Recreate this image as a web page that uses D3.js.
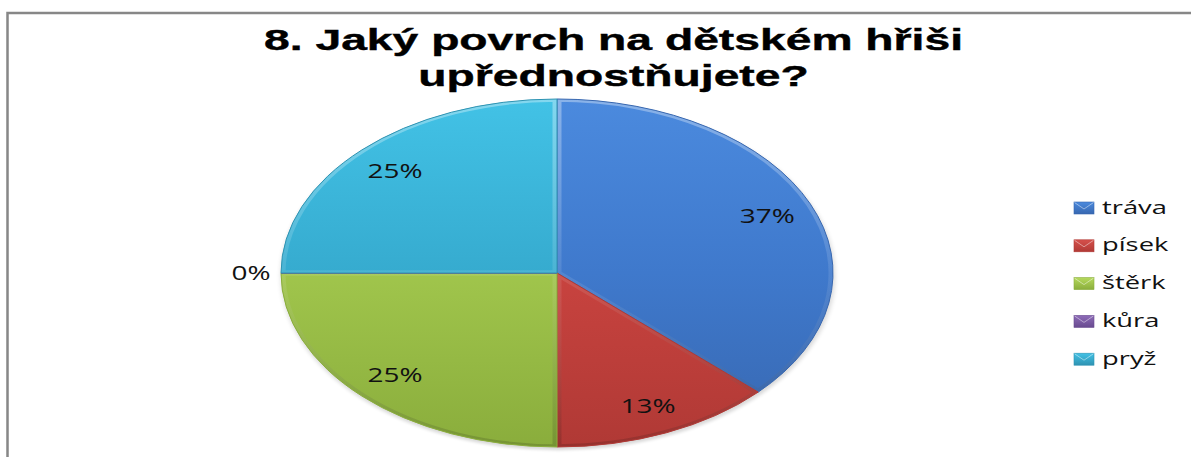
<!DOCTYPE html>
<html>
<head>
<meta charset="utf-8">
<script src="https://cdn.jsdelivr.net/npm/d3@7"></script>
<style>
  body { margin: 0; background: #ffffff; }
</style>
</head>
<body>
<div id="chart"></div>
<script>

// Data
const categories = [ 'tráva', 'písek', 'štěrk', 'kůra', 'pryž' ];
const shares = [ 37, 13, 25, 0, 25 ];
const valueLabels = [ '37%', '13%', '25%', '0%', '25%' ];
const titleLines = [ '8. Jaký povrch na dětském hřiši', 'upřednostňujete?' ];

// Office-like palette: base, light (top) and dark (bottom) tone per slice
const baseColors  = [ '#3f79cc', '#c8433f', '#a0c54c', '#7d5ba6', '#36abcf' ];
const lightColors = [ '#4b8ade', '#d6504b', '#b5d95c', '#8e6cb8', '#42c2e6' ];
const darkColors  = [ '#3767b0', '#b03935', '#8aad3c', '#684a8f', '#2e93b2' ];

const figure_width = 1191;
const figure_height = 457;

const svg = d3.select( 'div#chart' )
  .append( 'svg' )
    .attr( 'width', figure_width )
    .attr( 'height', figure_height );

const defs = svg.append( 'defs' );

// Chart area border (only left and top edges are inside the window)
svg.append( 'rect' )
  .attr( 'x', 7.5 )
  .attr( 'y', 13 )
  .attr( 'width', 1400 )
  .attr( 'height', 600 )
  .attr( 'fill', 'none' )
  .attr( 'stroke', '#878787' )
  .attr( 'stroke-width', 2.5 );

// Title, stretched horizontally like the reference
const titleStyle = 'font-family: "Liberation Sans", Arial, sans-serif; font-size: 30px; font-weight: bold;';
const titleX = 613.5;
const titleBaselines = [ 50, 86 ];
const titleWidth = 699;
const titleTexts = svg.append( 'g' )
  .selectAll( 'text' )
  .data( titleLines )
  .enter()
  .append( 'text' )
    .attr( 'text-anchor', 'middle' )
    .attr( 'style', titleStyle )
    .attr( 'fill', '#000' )
    .attr( 'stroke', '#000' )
    .attr( 'stroke-width', 0.4 )
    .text( function( d ) { return d } );
const titleScale = titleWidth / titleTexts.node().getComputedTextLength();
titleTexts.attr( 'transform', function( d, i ) {
  return 'translate(' + titleX + ',' + titleBaselines[ i ] + ') scale(' + titleScale + ',1)';
});

// Pie geometry: a circle of radius rx squashed vertically into an ellipse
const cx = 557, cy = 273, rx = 276, ry = 174;
const squash = ry / rx;

const pie = d3.pie()
  .sort( null )
  .value( function( d ) { return d } );
const arcs = pie( shares );

const arc = d3.arc()
  .innerRadius( 0 )
  .outerRadius( rx );

// Gradients per slice
categories.forEach( function( c, i ) {
  const g = defs.append( 'linearGradient' )
    .attr( 'id', 'fill' + i )
    .attr( 'gradientUnits', 'userSpaceOnUse' )
    .attr( 'x1', 0 ).attr( 'y1', -rx )
    .attr( 'x2', 0 ).attr( 'y2', rx );
  g.append( 'stop' ).attr( 'offset', '0%' ).attr( 'stop-color', lightColors[ i ] );
  g.append( 'stop' ).attr( 'offset', '50%' ).attr( 'stop-color', baseColors[ i ] );
  g.append( 'stop' ).attr( 'offset', '100%' ).attr( 'stop-color', darkColors[ i ] );

  // legend swatch gradient
  const lg = defs.append( 'linearGradient' )
    .attr( 'id', 'swatch' + i )
    .attr( 'x1', 0 ).attr( 'y1', 0 )
    .attr( 'x2', 0 ).attr( 'y2', 1 );
  lg.append( 'stop' ).attr( 'offset', '0%' ).attr( 'stop-color', lightColors[ i ] );
  lg.append( 'stop' ).attr( 'offset', '100%' ).attr( 'stop-color', darkColors[ i ] );
});

// Bevel: light on top, dark at the bottom
const bevel = defs.append( 'linearGradient' )
  .attr( 'id', 'bevel' )
  .attr( 'gradientUnits', 'userSpaceOnUse' )
  .attr( 'x1', 0 ).attr( 'y1', -rx )
  .attr( 'x2', 0 ).attr( 'y2', rx );
bevel.append( 'stop' ).attr( 'offset', '0%' ).attr( 'stop-color', '#ffffff' ).attr( 'stop-opacity', 0.35 );
bevel.append( 'stop' ).attr( 'offset', '50%' ).attr( 'stop-color', '#ffffff' ).attr( 'stop-opacity', 0.1 );
bevel.append( 'stop' ).attr( 'offset', '100%' ).attr( 'stop-color', '#000000' ).attr( 'stop-opacity', 0.15 );

// Soft shadow under the pie
const shadow = defs.append( 'filter' )
  .attr( 'id', 'shadow' )
  .attr( 'x', '-10%' ).attr( 'y', '-10%' )
  .attr( 'width', '120%' ).attr( 'height', '120%' );
shadow.append( 'feGaussianBlur' ).attr( 'stdDeviation', 2.5 );

const pieGroup = svg.append( 'g' )
  .attr( 'transform', 'translate(' + cx + ',' + cy + ') scale(1,' + squash + ')' );

pieGroup.append( 'ellipse' )
  .attr( 'cx', 1 )
  .attr( 'cy', 4 )
  .attr( 'rx', rx + 1 )
  .attr( 'ry', rx + 1 )
  .attr( 'fill', '#000' )
  .attr( 'opacity', 0.15 )
  .attr( 'filter', 'url(#shadow)' );

arcs.forEach( function( a, i ) {
  defs.append( 'clipPath' )
    .attr( 'id', 'clip' + i )
    .append( 'path' )
      .attr( 'd', arc( a ) );
});

const slices = pieGroup.selectAll( 'g.slice' )
  .data( arcs )
  .enter()
  .append( 'g' )
    .attr( 'class', 'slice' );

slices.append( 'path' )
  .attr( 'd', arc )
  .attr( 'fill', function( d, i ) { return 'url(#fill' + i + ')' } );

slices.append( 'path' )
  .attr( 'd', arc )
  .attr( 'fill', 'none' )
  .attr( 'stroke', 'url(#bevel)' )
  .attr( 'stroke-width', 9 )
  .attr( 'clip-path', function( d, i ) { return 'url(#clip' + i + ')' } );

slices.append( 'path' )
  .attr( 'd', arc )
  .attr( 'fill', 'none' )
  .attr( 'stroke', function( d, i ) { return darkColors[ i ] } )
  .attr( 'stroke-width', 1 )
  .attr( 'vector-effect', 'non-scaling-stroke' );

// Data labels
const labelStyle = 'font-family: "Open Sans", "Noto Sans", sans-serif; font-size: 19.5px;';
const labelArc = d3.arc().innerRadius( rx * 0.83 ).outerRadius( rx * 0.83 );
const outsideArc = d3.arc().innerRadius( rx + 30 ).outerRadius( rx + 30 );

const labels = svg.append( 'g' )
  .selectAll( 'text' )
  .data( arcs )
  .enter()
  .append( 'text' )
    .attr( 'text-anchor', 'middle' )
    .attr( 'style', labelStyle )
    .attr( 'fill', '#111' )
    .text( function( d, i ) { return valueLabels[ i ] } );
const labelScale = 55 / labels.node().getComputedTextLength();
labels.attr( 'transform', function( d ) {
  const p = d.value > 0 ? labelArc.centroid( d ) : outsideArc.centroid( d );
  return 'translate(' + ( cx + p[ 0 ] ) + ',' + ( cy + p[ 1 ] * squash + 7 ) + ') scale(' + labelScale + ',1)';
});

// Legend
const legendStyle = 'font-family: "Open Sans", "Noto Sans", sans-serif; font-size: 18.5px;';
const legendX = 1074, legendY = 208, legendStep = 37.8;

const legend = svg.append( 'g' )
  .selectAll( 'g' )
  .data( categories )
  .enter()
  .append( 'g' )
    .attr( 'transform', function( d, i ) { return 'translate(' + legendX + ',' + ( legendY + i * legendStep ) + ')' } );

legend.append( 'rect' )
  .attr( 'x', 0 )
  .attr( 'y', -6 )
  .attr( 'width', 20 )
  .attr( 'height', 12 )
  .attr( 'fill', function( d, i ) { return 'url(#swatch' + i + ')' } )
  .attr( 'stroke', function( d, i ) { return darkColors[ i ] } )
  .attr( 'stroke-width', 0.6 );

// little "envelope" fold on the swatch
legend.append( 'path' )
  .attr( 'd', 'M0.5,-5.5 L10,1 L19.5,-5.5' )
  .attr( 'fill', 'none' )
  .attr( 'stroke', '#ffffff' )
  .attr( 'stroke-opacity', 0.45 )
  .attr( 'stroke-width', 1 );

const legendTexts = legend.append( 'text' )
  .attr( 'style', legendStyle )
  .attr( 'fill', '#111' )
  .text( function( d ) { return d } );
const legendScale = 65 / legendTexts.node().getComputedTextLength();
legendTexts.attr( 'transform', 'translate(28,5.5) scale(' + legendScale + ',1)' );

</script>
</body>
</html>
